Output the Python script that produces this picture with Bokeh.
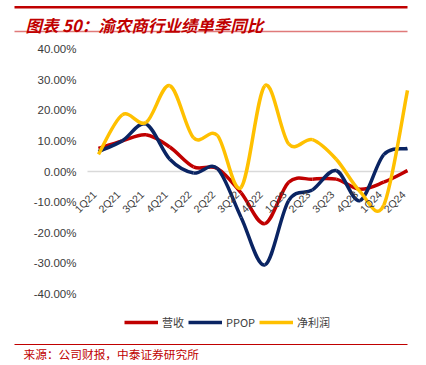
from bokeh.plotting import figure
from bokeh.models import (Range1d, FixedTicker, PrintfTickFormatter, Legend, LegendItem,
                          LabelSet, Label, BoxAnnotation, ColumnDataSource)
from bokeh.core.properties import value
from bokeh.embed import file_html
from bokeh.resources import INLINE
import math

# ---------------- data ----------------
categories = ["1Q21", "2Q21", "3Q21", "4Q21", "1Q22", "2Q22", "3Q22", "4Q22",
              "1Q23", "2Q23", "3Q23", "4Q23", "1Q24", "2Q24"]
revenue = [7.5, 10.0, 12.0, 8.0, 1.5, 1.0, -7.0, -17.0, -3.5, -2.5, -2.5, -5.8, -3.5, 0.3]
ppop = [6.5, 10.0, 15.5, 4.0, -0.5, 1.0, -15.0, -30.5, -9.5, -6.0, 0.3, -9.5, 5.5, 7.5]
net_profit = [5.6, 18.5, 16.0, 28.0, 11.0, 11.8, -5.2, 28.0, 9.0, 10.4, 4.0, -6.5, -11.0, 26.5]
series_names = ["营收", "PPOP", "净利润"]
y_ticks = [-40, -30, -20, -10, 0, 10, 20, 30, 40]

title_text = "图表 50：渝农商行业绩单季同比"
source_text = "来源：公司财报，中泰证券研究所"

RED = "#C00000"
NAVY = "#0A2463"
GOLD = "#FFC000"
CJK_NAME = "Noto Sans CJK SC"

# ---------------- geometry (pixels) ----------------
W, H = 420, 362
PX_FIRST = 98.0        # pixel column of the first category
PX_PER_CAT = 23.77
PX_ZERO = 171.0        # pixel row of 0 %
PX_PER_PCT = 3.0625
PLOT_LEFT_PX = 87.0


def smooth_segments(vals):
    n = len(vals)
    pts = [(float(i), float(v)) for i, v in enumerate(vals)]
    out = dict(x0=[], y0=[], x1=[], y1=[], cx0=[], cy0=[], cx1=[], cy1=[])
    for i in range(n - 1):
        p0 = pts[i - 1] if i > 0 else pts[i]
        p1 = pts[i]
        p2 = pts[i + 1]
        p3 = pts[i + 2] if i + 2 < n else pts[i + 1]
        out["x0"].append(p1[0]); out["y0"].append(p1[1])
        out["x1"].append(p2[0]); out["y1"].append(p2[1])
        out["cx0"].append(p1[0] + (p2[0] - p0[0]) / 6.0)
        out["cy0"].append(p1[1] + (p2[1] - p0[1]) / 6.0)
        out["cx1"].append(p2[0] - (p3[0] - p1[0]) / 6.0)
        out["cy1"].append(p2[1] - (p3[1] - p1[1]) / 6.0)
    return out


n = len(categories)
x_start = -PX_FIRST / PX_PER_CAT
x_end = (W - PX_FIRST) / PX_PER_CAT
y_top = PX_ZERO / PX_PER_PCT
y_bottom = -(H - PX_ZERO) / PX_PER_PCT
plot_left = (PLOT_LEFT_PX - PX_FIRST) / PX_PER_CAT

p = figure(width=W, height=H, x_range=Range1d(x_start, x_end), y_range=Range1d(y_bottom, y_top),
           min_border=0, min_border_left=0, min_border_right=0, min_border_top=0,
           min_border_bottom=0, toolbar_location=None, output_backend="svg",
           x_axis_location=None, outline_line_color=None)
p.xgrid.visible = False
p.ygrid.visible = False
p.yaxis.fixed_location = plot_left
p.yaxis.ticker = FixedTicker(ticks=y_ticks)
p.yaxis.formatter = PrintfTickFormatter(format="%.2f%%")
p.yaxis.axis_line_color = None
p.yaxis.major_tick_line_color = None
p.yaxis.minor_tick_line_color = None
p.yaxis.major_label_standoff = 5
p.yaxis.major_label_text_font = "Liberation Sans"
p.yaxis.major_label_text_font_size = "11.5px"
p.yaxis.major_label_text_color = "#3A3A3A"

# zero line across the plot area
p.segment(x0=[plot_left], y0=[0], x1=[n - 1], y1=[0], line_color="#D9D9D9", line_width=1.5)

renderers = []
for vals, col in ((revenue, RED), (ppop, NAVY), (net_profit, GOLD)):
    seg = smooth_segments(vals)
    r = p.bezier(source=ColumnDataSource(seg), x0="x0", y0="y0", x1="x1", y1="y1",
                 cx0="cx0", cy0="cy0", cx1="cx1", cy1="cy1",
                 line_color=col, line_width=3.5)
    renderers.append(r)

cat_src = ColumnDataSource(dict(x=list(range(n)), y=[0] * n, text=categories))
labels = LabelSet(x="x", y="y", text="text", source=cat_src, angle=math.pi / 4,
                  text_align="right", text_baseline="middle", x_offset=-4, y_offset=-21,
                  text_font=value("Liberation Sans"), text_font_size="10.5px",
                  text_color="#3A3A3A")
p.add_layout(labels)

legend = Legend(items=[LegendItem(label=nm, renderers=[r]) for nm, r in zip(series_names, renderers)],
                orientation="horizontal", location=(124, H - 330), border_line_color=None,
                background_fill_alpha=0, padding=0, margin=0, glyph_width=34, glyph_height=14,
                label_height=14, label_standoff=4, spacing=4,
                label_text_font=CJK_NAME, label_text_font_size="11px", label_text_color="#404040")
p.add_layout(legend, "center")


def hrule(x0, x1, y_top_px, thickness, color):
    p.add_layout(BoxAnnotation(left=x0, right=x1, top=H - y_top_px, bottom=H - y_top_px - thickness,
                               left_units="screen", right_units="screen", bottom_units="screen",
                               top_units="screen", fill_color=color, fill_alpha=1, line_color=None))


hrule(14, 407, 5.5, 2.5, RED)
hrule(14, 407, 30.3, 1.5, "#E07A7A")
hrule(14, 407, 343.5, 1.0, RED)

p.add_layout(Label(x=25, y=H - 24, x_units="screen", y_units="screen", text=title_text,
                   text_font=CJK_NAME, text_font_size="16.5px", text_font_style="bold italic",
                   text_color=RED, text_baseline="alphabetic"))
p.add_layout(Label(x=23, y=H - 353, x_units="screen", y_units="screen", text=source_text,
                   text_font=CJK_NAME, text_font_size="11.7px",
                   text_color=RED, text_baseline="middle"))

open("out.html", "w").write(file_html(p, INLINE))
